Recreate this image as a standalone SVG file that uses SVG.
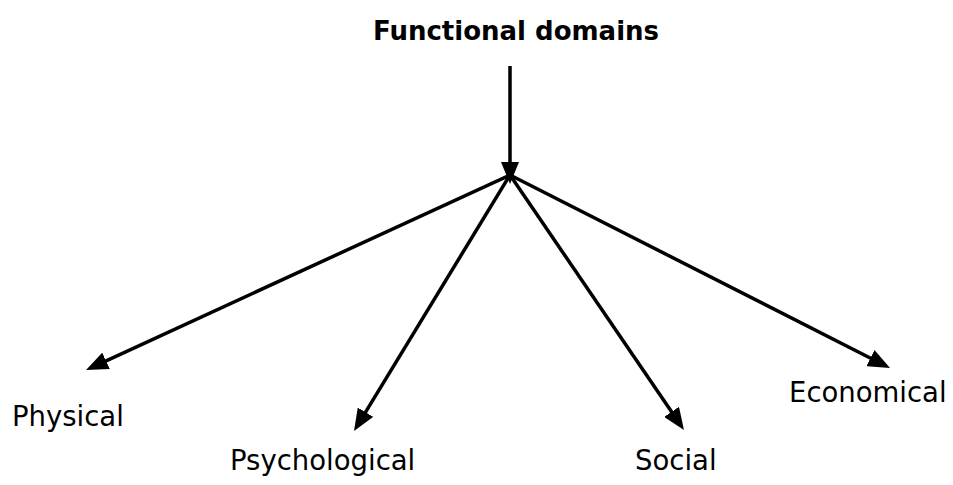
<svg xmlns="http://www.w3.org/2000/svg" width="953" height="485" viewBox="0 0 953 485">
<style>
.lbl{font-family:"DejaVu Sans",sans-serif;font-size:27.5px;fill:#000}
.ttl{font-family:"DejaVu Sans",sans-serif;font-size:26px;font-weight:bold;fill:#000}
.ln{stroke:#000;stroke-width:3.5;fill:none;marker-end:url(#ah)}
</style>
<defs>
<marker id="ah" viewBox="0 0 22 18" refX="13" refY="9" markerWidth="22" markerHeight="18" markerUnits="userSpaceOnUse" orient="auto">
<path d="M0,0 L22,9 L0,18 z" fill="#000"/>
</marker>
</defs>
<rect width="953" height="485" fill="#fff"/>
<g id="connectors">
<line class="ln" x1="510" y1="66" x2="510" y2="175"/>
<line class="ln" x1="510" y1="175" x2="94.2" y2="366.3"/>
<line class="ln" x1="510" y1="175" x2="358.7" y2="423.3"/>
<line class="ln" x1="510" y1="175" x2="678.9" y2="422.6"/>
<line class="ln" x1="510" y1="175" x2="882" y2="364"/>
</g>
<g id="functional-domains"><text class="ttl" x="516" y="40" text-anchor="middle">Functional domains</text></g>
<g id="physical"><text class="lbl" x="12" y="426">Physical</text></g>
<g id="psychological"><text class="lbl" x="230" y="470">Psychological</text></g>
<g id="social"><text class="lbl" x="635" y="470">Social</text></g>
<g id="economical"><text class="lbl" x="789" y="402">Economical</text></g>
</svg>
